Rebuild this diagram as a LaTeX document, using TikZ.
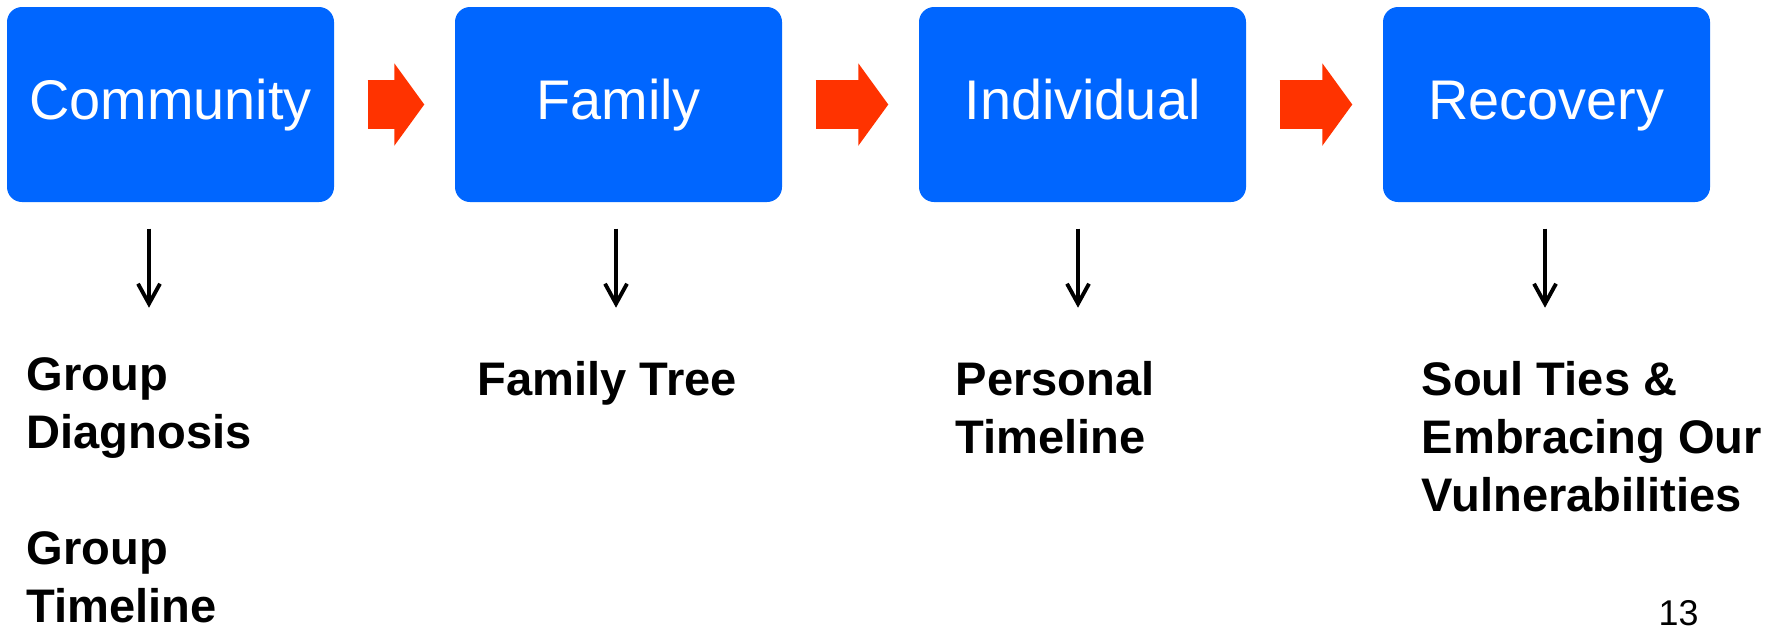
\documentclass[tikz,border=0pt]{standalone}
\usepackage{fontspec}
\setmainfont{Liberation Sans}
\usetikzlibrary{arrows.meta}
\definecolor{boxblue}{RGB}{0,102,255}
\definecolor{arrowred}{RGB}{255,51,0}
\begin{document}
\begin{tikzpicture}[node distance=4.64cm,
    stage/.style={rectangle, rounded corners=0.15cm, fill=boxblue, text=white, minimum width=3.27cm, minimum height=1.95cm, inner sep=0pt, text height=11.4pt, text depth=2.6pt, font=\fontsize{15.9pt}{19pt}\selectfont},
    push/.style={arrowred, line width=0.49cm, -{Triangle[length=0.30cm, width=0.81cm]}, shorten <=0.33cm, shorten >=0.30cm},
    drop/.style={line width=1.1pt, -{Straight Barb[length=0.2cm, width=0.22cm]}, shorten <=0.26cm},
    task/.style={anchor=base west, align=left, inner sep=0pt, font=\fontsize{13.4pt}{16.5pt}\selectfont\bfseries}]

    \useasboundingbox (0,0) rectangle (17.79,-6.28);

    \node [stage] (A) at (1.705,-1.045) {Community};
    \node [stage] (B) [right of=A, node distance=4.48cm] {Family};
    \node [stage] (C) [right of=B] {Individual};
    \node [stage] (D) [right of=C] {Recovery};

    \draw[push] (A) -- (B);
    \draw[push] (B) -- (C);
    \draw[push] (C) -- (D);

    % base of a multi-line node is its last line
    \node [task] (diag) at (0.26,-6.22) {Group\\Diagnosis\\[16.5pt]Group\\Timeline};
    \node [task] (tree) at (4.77,-3.95) {Family Tree};
    \node [task] (line) at (9.55,-4.53) {Personal\\Timeline};
    \node [task] (ties) at (14.21,-5.11) {Soul Ties \&\\Embracing Our\\Vulnerabilities};

    \draw[drop] ([xshift=-0.215cm]A.south) -- ++(0,-1.05);
    \draw[drop] ([xshift=-0.025cm]B.south) -- ++(0,-1.05);
    \draw[drop] ([xshift=-0.045cm]C.south) -- ++(0,-1.05);
    \draw[drop] ([xshift=-0.015cm]D.south) -- ++(0,-1.05);

    \node [anchor=base west, inner sep=0pt, font=\fontsize{10.2pt}{12pt}\selectfont] (page) at (16.58,-6.25) {13};

\end{tikzpicture}
\end{document}
